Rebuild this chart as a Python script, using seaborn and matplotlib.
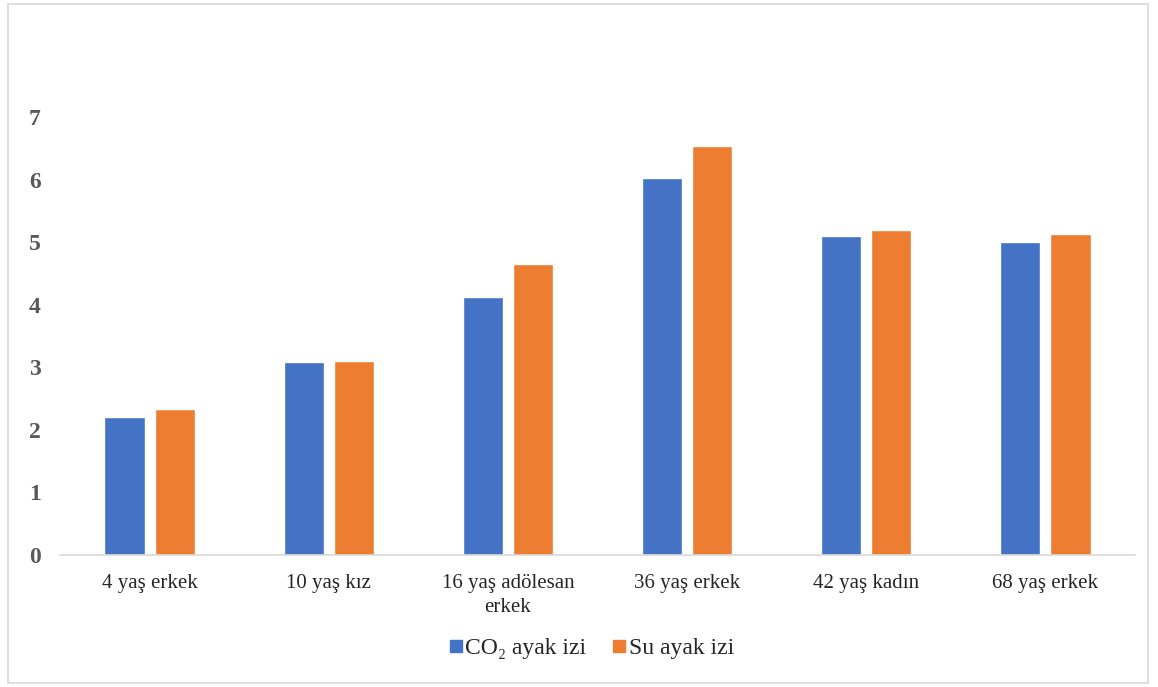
import matplotlib
matplotlib.use("Agg")
import matplotlib.pyplot as plt
import seaborn as sns
import pandas as pd
from matplotlib.patches import Rectangle

categories = ["4 yaş erkek", "10 yaş kız", "16 yaş adölesan\nerkek", "36 yaş erkek", "42 yaş kadın", "68 yaş erkek"]
series_names = ["CO₂ ayak izi", "Su ayak izi"]
co2_values = [2.21, 3.08, 4.12, 6.03, 5.10, 5.00]
water_values = [2.33, 3.10, 4.65, 6.54, 5.19, 5.13]
y_ticks = [0, 1, 2, 3, 4, 5, 6, 7]
colors = ["#4472C4", "#ED7D31"]

df = pd.DataFrame({
    "kategori": categories * 2,
    "seri": [series_names[0]] * len(categories) + [series_names[1]] * len(categories),
    "deger": co2_values + water_values,
})

sns.set_style("white")
plt.rcParams["font.family"] = ["Liberation Serif", "DejaVu Serif"]

fig = plt.figure(figsize=(11.58, 6.87), dpi=100)
ax = fig.add_axes([60 / 1158, 1 - 555 / 687, (1135 - 60) / 1158, (555 - 54.4) / 687])

sns.barplot(data=df, x="kategori", y="deger", hue="seri", order=categories,
            hue_order=series_names, palette=colors, width=0.56, gap=0.2,
            saturation=1, errorbar=None, ax=ax, legend=False)

ax.set_ylim(0, 8)
ax.set_xlim(-0.5, len(categories) - 0.5)
ax.set_yticks(y_ticks)
ax.set_yticklabels([str(t) for t in y_ticks], fontsize=17, fontweight="bold", color="#595959")
ax.tick_params(axis="y", length=0, pad=14)
ax.tick_params(axis="x", which="major", length=0, pad=14, labelsize=15, labelcolor="#262626")
ax.set_xticks([i - 0.5 for i in range(len(categories) + 1)], minor=True)
ax.tick_params(axis="x", which="minor", length=6, color="#D9D9D9", width=1.2)
for lbl in ax.get_xticklabels():
    lbl.set_linespacing(1.32)
ax.set_xlabel("")
ax.set_ylabel("")
for s in ["top", "right", "left"]:
    ax.spines[s].set_visible(False)
ax.spines["bottom"].set_color("#D9D9D9")
ax.spines["bottom"].set_linewidth(1.2)

handles = [plt.Line2D([], [], marker="s", linestyle="", markersize=8, color=c) for c in colors]
fig.legend(handles, series_names, loc="center", bbox_to_anchor=(590 / 1158, 1 - 648 / 687),
           ncol=2, frameon=False, fontsize=17, handletextpad=0.0, columnspacing=1.0,
           handlelength=0.8, labelcolor="#262626")

fig.patches.append(Rectangle((8 / 1158, 4 / 687), 1140 / 1158, 679 / 687, transform=fig.transFigure,
                             fill=False, edgecolor="#D9D9D9", linewidth=1.2))

fig.savefig("out.png", dpi=100)
